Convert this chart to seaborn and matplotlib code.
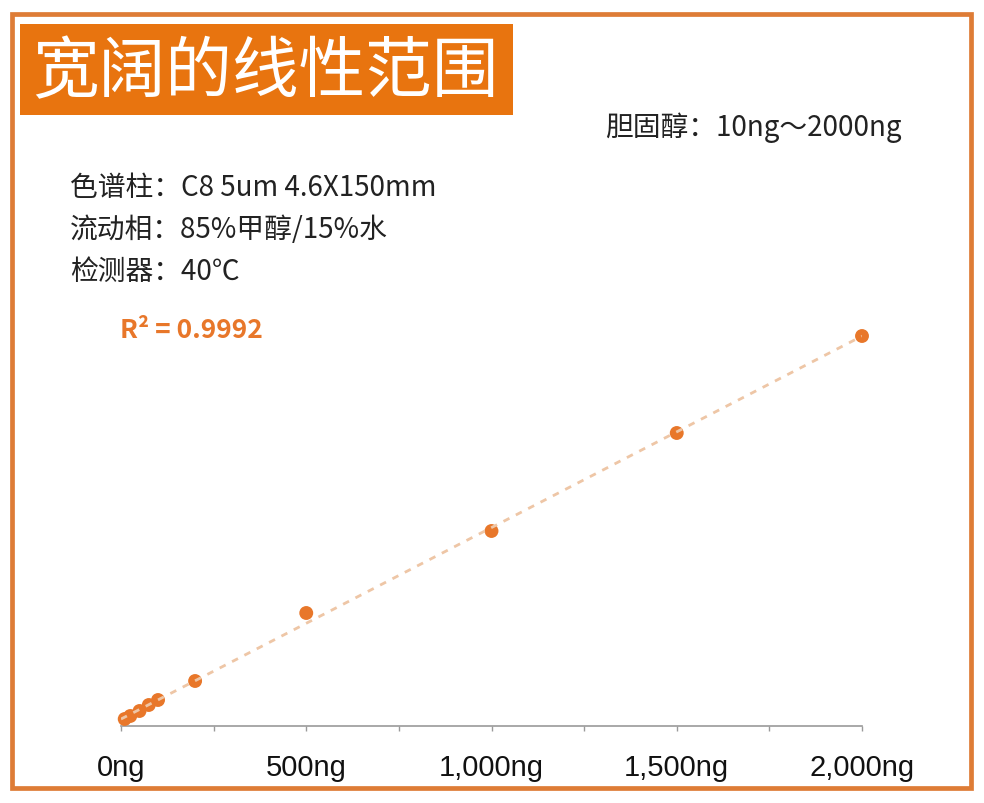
import matplotlib
matplotlib.use("Agg")
import matplotlib.pyplot as plt
from matplotlib.patches import Rectangle
import seaborn as sns
import numpy as np
import pandas as pd

# ---- data ----
amount_ng = [10, 25, 50, 75, 100, 200, 500, 1000, 1500, 2000]
peak_area = [7, 10, 15, 21, 26, 45, 113, 195, 293, 390]
tick_values = [0, 250, 500, 750, 1000, 1250, 1500, 1750, 2000]
tick_labels = ["0ng", "", "500ng", "", "1,000ng", "", "1,500ng", "", "2,000ng"]
title_text = "宽阔的线性范围"
range_text = "胆固醇：10ng～2000ng"
cond_lines = ["色谱柱：C8 5um 4.6X150mm", "流动相：85%甲醇/15%水", "检测器：40℃"]
r2_text = "R² = 0.9992"

sns.set_theme(style="white")
plt.rcParams['font.family'] = ['Noto Sans CJK SC', 'DejaVu Sans']

W, H = 984, 804
fig = plt.figure(figsize=(W / 100, H / 100), dpi=100)
fig.patch.set_facecolor("white")

def fx(px):
    return px / W

def fy(py):
    return 1 - py / H

# axes: x 0 -> px 121, 2000 -> px 862 ; y 0 -> px 727, 400 -> px 327
ax = fig.add_axes([fx(121), fy(727), (862 - 121) / W, 400 / H])
ax.set_xlim(0, 2000)
ax.set_ylim(0, 400)

df = pd.DataFrame({"amount": amount_ng, "area": peak_area})
orange = "#E8772A"
sns.regplot(data=df, x="amount", y="area", ax=ax, ci=None, truncate=False,
            scatter_kws=dict(s=100, color=orange, edgecolor="none", alpha=1, clip_on=False, zorder=3),
            line_kws=dict(color="#EEC6A6", lw=2.0, dashes=(2.4, 2.6), zorder=4))

ax.set_xlabel("")
ax.set_ylabel("")
for s in ["top", "right", "left"]:
    ax.spines[s].set_visible(False)
ax.spines["bottom"].set_color("#9a9a9a")
ax.spines["bottom"].set_linewidth(1.2)
ax.set_yticks([])
ax.set_xticks(tick_values)
ax.set_xticklabels(tick_labels)
ax.tick_params(axis="x", direction="out", length=3.5, width=1.0, color="#9a9a9a",
               pad=16, labelsize=21, labelcolor="#111111", bottom=True)
for lab in ax.get_xticklabels():
    lab.set_family(["Liberation Sans"])
    lab.set_fontsize(21)
ax.patch.set_alpha(0)

# outer frame
fig.patches.append(Rectangle((fx(12), fy(789)), (971 - 12) / W, (789 - 15) / H,
                             transform=fig.transFigure, fill=False,
                             edgecolor="#DE7C36", linewidth=3.4))
# title box
fig.patches.append(Rectangle((fx(20), fy(116)), (513 - 20) / W, (116 - 25) / H,
                             transform=fig.transFigure, facecolor="#E8740F",
                             edgecolor="none"))
fig.text(fx(265), fy(73), title_text, color="white", fontsize=48,
         ha="center", va="center")

fig.text(fx(605), fy(128), range_text, fontsize=20, color="#222222",
         ha="left", va="center")
for i, t in enumerate(cond_lines):
    fig.text(fx(70), fy(188 + 42 * i), t, fontsize=20, color="#222222",
             ha="left", va="center")
fig.text(fx(120), fy(331), r2_text, fontsize=19, color="#E8772A",
         fontweight="bold", ha="left", va="center")

fig.savefig("out.png", dpi=100, facecolor="white")
